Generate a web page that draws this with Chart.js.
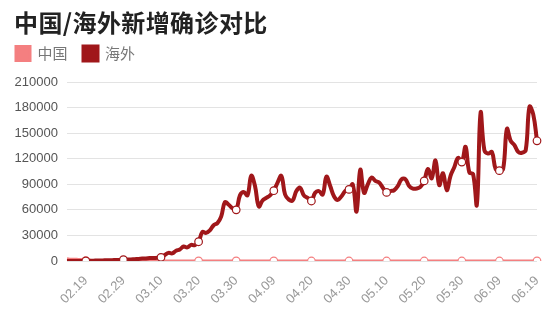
<!DOCTYPE html>
<html lang="zh">
<head>
<meta charset="UTF-8" />
<title>中国/海外新增确诊对比</title>
<script src="https://cdn.jsdelivr.net/npm/chart.js@4"></script>
<style>
  body { margin: 0; background: #fff; }
  .wrap { position: relative; width: 554px; height: 318px; }
  .wrap canvas { position: absolute; left: 0; top: 0; }
  .wrap h1 {
    position: absolute; left: 14px; top: 10px; margin: 0;
    font: bold 24px/24px "Noto Sans CJK SC", sans-serif;
    letter-spacing: 0.4px; color: #222;
  }
</style>
</head>
<body>
<div class="wrap">
  <canvas id="chart" width="554" height="318"></canvas>
  <h1>中国/海外新增确诊对比</h1>
</div>
<script>
const dates = [
  "02.14","02.15","02.16","02.17","02.18","02.19","02.20","02.21","02.22","02.23","02.24","02.25","02.26","02.27","02.28","02.29",
  "03.01","03.02","03.03","03.04","03.05","03.06","03.07","03.08","03.09","03.10","03.11","03.12","03.13","03.14","03.15","03.16",
  "03.17","03.18","03.19","03.20","03.21","03.22","03.23","03.24","03.25","03.26","03.27","03.28","03.29","03.30","03.31",
  "04.01","04.02","04.03","04.04","04.05","04.06","04.07","04.08","04.09","04.10","04.11","04.12","04.13",
  "04.15","04.16","04.17","04.18","04.19","04.20","04.21","04.22","04.23","04.24","04.25","04.26","04.27","04.28","04.29","04.30",
  "05.01","05.02","05.03","05.04","05.05","05.06","05.07","05.08","05.09","05.10","05.11","05.12","05.13","05.14","05.15","05.16",
  "05.17","05.18","05.19","05.20","05.21","05.22","05.23","05.24","05.25","05.26","05.27","05.28","05.29","05.30","05.31",
  "06.01","06.02","06.03","06.04","06.05","06.06","06.07","06.08","06.09","06.10","06.11","06.12","06.13","06.14","06.15","06.16",
  "06.17","06.18","06.19"
];

// only these dates get a label and a marker
const xTickLabels = ["02.19","02.29","03.10","03.20","03.30","04.09","04.20","04.30","05.10","05.20","05.30","06.09","06.19"];
const yTicks = [0, 30000, 60000, 90000, 120000, 150000, 180000, 210000];

const china = [
  2641, 2009, 2048, 1886, 1749, 394, 889, 397, 648, 409, 508, 406, 433, 327, 427, 573,
  202, 125, 119, 139, 143, 99, 44, 40, 19, 24, 15, 8, 11, 20, 16, 21,
  13, 34, 39, 41, 46, 39, 78, 47, 67, 55, 54, 45, 31, 48, 36,
  35, 31, 19, 30, 39, 32, 62, 63, 42, 46, 99, 108, 89,
  26, 27, 27, 16, 12, 11, 30, 30, 10, 6, 12, 11, 3, 22, 4, 4,
  12, 1, 2, 3, 1, 2, 4, 2, 1, 14, 17, 1, 3, 7, 4, 5,
  7, 6, 6, 2, 4, 2, 3, 11, 7, 1, 2, 2, 4, 4, 16,
  5, 6, 5, 7, 5, 5, 6, 3, 3, 11, 7, 11, 57, 49, 40, 44,
  28, 25, 32
];

const overseas = [
  50, 60, 80, 90, 100, 150, 300, 400, 500, 600, 800, 900, 1000, 1200, 1300, 1500,
  1800, 1900, 2200, 2400, 2800, 3000, 3400, 3600, 3900, 4300, 7000, 9500, 9000, 12000, 13500, 17000,
  16000, 19000, 18500, 22600, 34000, 33000, 36000, 42000, 44500, 52000, 69000, 66000, 62000, 60000, 77000,
  81000, 77000, 100000, 88000, 64000, 71000, 74000, 77000, 82500, 92000, 100000, 78000, 72000,
  71000, 82000, 86000, 77000, 74000, 70400, 80000, 82000, 78000, 99000, 88000, 76000, 71500, 76000, 82000, 84000,
  90000, 58000, 107000, 80000, 90000, 98000, 94000, 92000, 86000, 80500, 82000, 83000, 88000, 96000, 96000, 88000,
  85000, 85000, 87000, 94000, 108000, 97000, 118000, 89000, 103000, 83000, 100000, 110000, 121000, 116000, 134000,
  104000, 102000, 66000, 174000, 130000, 126000, 128000, 108000, 106000, 108000, 155000, 141000, 136000, 128000, 127000, 130000,
  181000, 172000, 141000
];

const pink = "#f47f80";
const darkRed = "#a0171a";

function markerRadius(ctx) {
  return xTickLabels.includes(dates[ctx.dataIndex]) ? 3.8 : 0;
}

// extra room between legend and plot
const legendGap = {
  id: "legendGap",
  beforeInit(chart) {
    const fit = chart.legend.fit;
    chart.legend.fit = function () {
      fit.bind(chart.legend)();
      this.height += 11;
    };
  }
};

new Chart(document.getElementById("chart"), {
  type: "line",
  data: {
    labels: dates,
    datasets: [
      {
        label: "中国",
        data: china,
        borderColor: pink,
        backgroundColor: pink,
        borderWidth: 3,
        tension: 0.4,
        pointRadius: markerRadius,
        pointBackgroundColor: "#fff",
        pointBorderColor: pink,
        pointBorderWidth: 1.2,
        order: 2
      },
      {
        label: "海外",
        data: overseas,
        borderColor: darkRed,
        backgroundColor: darkRed,
        borderWidth: 4,
        tension: 0.4,
        pointRadius: markerRadius,
        pointBackgroundColor: "#fff",
        pointBorderColor: darkRed,
        pointBorderWidth: 1.2,
        order: 1
      }
    ]
  },
  options: {
    responsive: false,
    animation: false,
    devicePixelRatio: 1,
    layout: { padding: { top: 30, right: 17, bottom: 0, left: 0 } },
    plugins: {
      legend: {
        align: "start",
        labels: {
          boxWidth: 14,
          boxHeight: 14,
          padding: 16,
          color: "#777",
          font: { size: 15, family: '"Noto Sans CJK SC", sans-serif' },
          sort: (a, b) => a.datasetIndex - b.datasetIndex
        }
      },
      tooltip: { enabled: false }
    },
    scales: {
      x: {
        grid: { display: false },
        border: { display: false },
        afterFit: (s) => { s.height = 57; },
        ticks: {
          autoSkip: false,
          minRotation: 45,
          maxRotation: 45,
          padding: 4,
          color: "#999",
          font: { size: 13, family: '"Liberation Sans", Arial, sans-serif' },
          callback: function (value) {
            const label = this.getLabelForValue(value);
            return xTickLabels.includes(label) ? label : "";
          }
        }
      },
      y: {
        min: 0,
        max: 210000,
        afterFit: (s) => { s.width = 67; },
        afterBuildTicks: (s) => { s.ticks = yTicks.map((v) => ({ value: v })); },
        grid: { color: "#e3e3e3", drawTicks: false },
        border: { display: false },
        ticks: {
          padding: 9,
          color: "#555",
          font: { size: 13, family: '"Liberation Sans", Arial, sans-serif' },
          callback: (v) => String(v)
        }
      }
    }
  },
  plugins: [legendGap]
});
</script>
</body>
</html>
